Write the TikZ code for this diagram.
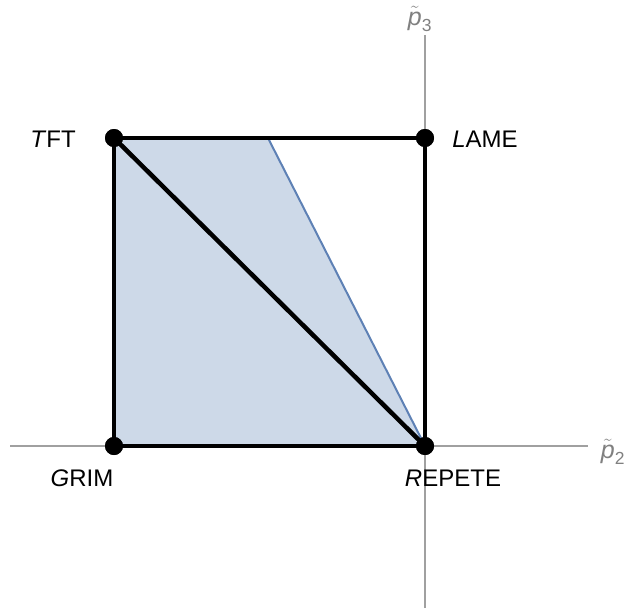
\documentclass[tikz,border=0pt]{standalone}
\usepackage{amsmath}
\usepackage{fontspec}
\setmainfont{Liberation Sans}
\definecolor{regfill}{HTML}{CDD9E8}
\definecolor{regline}{HTML}{5E81B5}
\definecolor{axgray}{HTML}{A0A0A0}
\definecolor{labgray}{HTML}{808080}
\newcommand\ptil[1]{$\tilde{\textit{p}}_{\text{#1}}$}
\begin{document}
\begin{tikzpicture}[x=1pt,y=-1pt,
  axis/.style={draw=axgray,line width=1.2pt},
  edge/.style={draw=black,line width=4.5pt},
  vtx/.style={circle,fill=black,inner sep=0pt,minimum size=18pt},
  lab/.style={font=\fontsize{24}{28}\selectfont},
  axlab/.style={font=\fontsize{25}{28}\selectfont,text=labgray,inner sep=0pt}]
\useasboundingbox (0,0) rectangle (627,616);
% shaded region
\coordinate (c1) at (268,138);
\fill[regfill] (114,138) -- (c1) -- (425,446) -- (114,446) -- cycle;
% axes
\coordinate (xa) at (10,446);
\coordinate (xb) at (588,446);
\coordinate (ya) at (425,608);
\coordinate (yb) at (425,35);
\draw[axis] (xa) -- (xb);
\draw[axis] (ya) -- (yb);
\node[axlab] (p2) at (613,452) {\ptil{2}};
\node[axlab] (p3) at (420,19) {\ptil{3}};
% vertices
\node[vtx] (T) at (114,138) {};
\node[vtx] (L) at (425,138) {};
\node[vtx] (G) at (114,446) {};
\node[vtx] (R) at (425,446) {};
\draw[regline,line width=2pt] (c1) -- (R.center);
\draw[edge] (T.center) -- (L.center) -- (R.center) -- (G.center) -- cycle;
\draw[edge] (T.center) -- (R.center);
\node[vtx] at (T) {};
\node[vtx] at (L) {};
\node[vtx] at (G) {};
\node[vtx] at (R) {};
% labels
\node[lab] (tl) at (53,139) {\textit{T}FT};
\node[lab] (ll) at (485,139) {\textit{L}AME};
\node[lab] (gl) at (82,478) {\textit{G}RIM};
\node[lab] (rl) at (453,478) {\textit{R}EPETE};
\end{tikzpicture}
\end{document}
